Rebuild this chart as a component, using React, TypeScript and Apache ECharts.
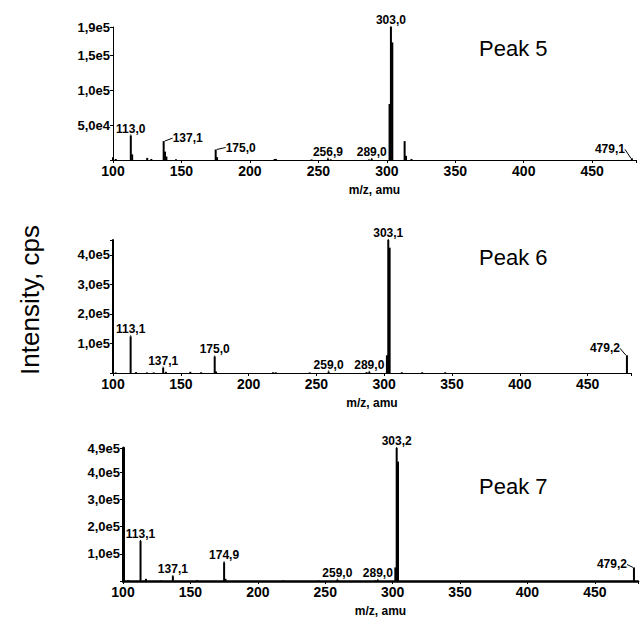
import React, { useEffect, useRef } from "react";
import * as echarts from "echarts";

// Peak 5 spectrum (m/z, intensity in cps)
const mz5 = [100, 102, 113, 114, 125, 128, 137, 138, 139, 146, 175, 176, 218, 219, 245, 257, 259, 287, 289, 302, 303, 304, 313, 314, 318, 479];
const int5 = [4000, 1500, 35000, 8000, 3000, 1500, 27000, 12000, 5000, 1000, 15000, 4000, 1500, 1500, 800, 2000, 1000, 800, 1500, 80000, 190000, 168000, 27000, 6000, 1500, 2500];
const labelMz5 = [113, 137, 175, 257, 289, 303, 479];
const labelText5 = ["113,0", "137,1", "175,0", "256,9", "289,0", "303,0", "479,1"];

// Peak 6 spectrum
const mz6 = [100, 102, 113, 117, 125, 130, 137, 139, 157, 165, 175, 176, 218, 220, 245, 259, 287, 289, 302, 303, 304, 313, 328, 345, 479];
const int6 = [8000, 2000, 124000, 3000, 2000, 2000, 18000, 4000, 4000, 2500, 56000, 5000, 2500, 2500, 2000, 5000, 3000, 4000, 60000, 450000, 424000, 2500, 2500, 2500, 60000];
const labelMz6 = [113, 137, 175, 259, 289, 303, 479];
const labelText6 = ["113,1", "137,1", "175,0", "259,0", "289,0", "303,1", "479,2"];

// Peak 7 spectrum
const mz7 = [100, 104, 113, 117, 128, 137, 155, 175, 176, 219, 245, 259, 287, 289, 302, 303, 304, 479];
const int7 = [10000, 3000, 148000, 8000, 2000, 18000, 3000, 69000, 8000, 2000, 2000, 5000, 2000, 4000, 50000, 490000, 440000, 50000];
const labelMz7 = [113, 137, 175, 259, 289, 303, 479];
const labelText7 = ["113,1", "137,1", "174,9", "259,0", "289,0", "303,2", "479,2"];

const yMax = [190000, 450000, 490000];
const yInterval = [50000, 100000, 100000];
const panelTitles = ["Peak 5", "Peak 6", "Peak 7"];
const xMin = 100;
const xMax = 482;
const xInterval = 50;

const FONT = "Liberation Sans, Arial, sans-serif";

function fmtY(v: number, max: number, labelMax: boolean) {
  if (v === 0) return "";
  if (v === max && !labelMax) return "";
  return v.toExponential(1).replace(".", ",").replace("e+", "e");
}

export default function App() {
  const ref = useRef<HTMLDivElement>(null);
  useEffect(() => {
    if (!ref.current) return;
    const chart = echarts.init(ref.current, undefined, { renderer: "svg" });

    const grids = [
      { left: 113, top: 27, width: 523, height: 133 },
      { left: 113, top: 240, width: 518, height: 133 },
      { left: 123, top: 448, width: 515, height: 134 },
    ];
    const yLineW = [1, 2, 3];
    const xLineW = [1, 1, 2.5];
    const labelMax = [true, false, true];

    const offsets: Record<string, [number, number]>[] = [
      { "137": [24, 4], "175": [25, 5], "479": [-22, -2] },
      { "479": [-22, 0] },
      { "479": [-22, 4] },
    ];

    const sets = [
      [mz5, int5, labelMz5, labelText5],
      [mz6, int6, labelMz6, labelText6],
      [mz7, int7, labelMz7, labelText7],
    ] as [number[], number[], number[], string[]][];

    const series = sets.map(([mz, inten, lm, lt], p) => {
      const data = mz.map((m, i) => {
        const li = lm.indexOf(m);
        const item: any = { value: [m, inten[i]] };
        if (li >= 0) {
          item.label = { show: true, formatter: lt[li] };
        }
        return item;
      });
      return {
        type: "bar",
        xAxisIndex: p,
        yAxisIndex: p,
        barWidth: 2,
        itemStyle: { color: "#000" },
        label: {
          show: false,
          position: "top",
          distance: 1,
          color: "#000",
          fontFamily: FONT,
          fontWeight: "bold",
          fontSize: 12,
        },
        labelLine: { show: true, lineStyle: { color: "#000", width: 1 } },
        labelLayout: (params: any) => {
          const m = mz[params.dataIndex];
          const o = offsets[p][String(m)];
          if (!o) return {};
          return { dx: o[0], dy: o[1] };
        },
        data,
      };
    });

    chart.setOption({
      animation: false,
      backgroundColor: "#fff",
      title: panelTitles.map((t, p) => ({
        text: t,
        left: 474,
        top: [32, 241, 470][p],
        textStyle: { fontFamily: FONT, fontWeight: "normal", fontSize: 22, color: "#000" },
      })),
      graphic: [
        {
          type: "text",
          x: 30,
          y: 300,
          rotation: Math.PI / 2,
          style: {
            text: "Intensity, cps",
            font: "26px " + FONT,
            fill: "#000",
            textAlign: "center",
            textVerticalAlign: "middle",
          },
        },
      ],
      grid: grids,
      xAxis: grids.map((_, p) => ({
        type: "value",
        gridIndex: p,
        min: xMin,
        max: xMax,
        interval: xInterval,
        name: "m/z, amu",
        nameLocation: "middle",
        nameGap: 24,
        nameTextStyle: { fontFamily: FONT, fontWeight: "bold", fontSize: 12, color: "#000" },
        axisLine: { show: true, onZero: false, lineStyle: { color: "#000", width: xLineW[p] } },
        axisTick: { show: true, length: 3, lineStyle: { color: "#000" } },
        axisLabel: {
          margin: 4,
          color: "#000",
          fontFamily: FONT,
          fontWeight: "bold",
          fontSize: 14,
          formatter: (v: number) => (v % xInterval === 0 ? String(v) : ""),
        },
        splitLine: { show: false },
      })),
      yAxis: grids.map((_, p) => ({
        type: "value",
        gridIndex: p,
        min: 0,
        max: yMax[p],
        interval: yInterval[p],
        axisLine: { show: true, lineStyle: { color: "#000", width: yLineW[p] } },
        axisTick: { show: true, length: 3, lineStyle: { color: "#000" } },
        axisLabel: {
          margin: 3,
          color: "#000",
          fontFamily: FONT,
          fontWeight: "bold",
          fontSize: 13,
          formatter: (v: number) => fmtY(v, yMax[p], labelMax[p]),
        },
        splitLine: { show: false },
      })),
      series,
    });
    return () => chart.dispose();
  }, []);
  return (
    <div
      ref={ref}
      style={{ position: "absolute", left: 0, top: 0, width: 641, height: 618 }}
    />
  );
}
